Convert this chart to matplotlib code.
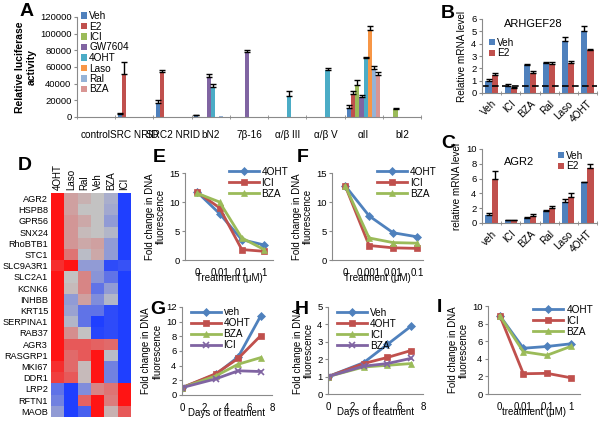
import numpy as np
import matplotlib
matplotlib.use('Agg')
from matplotlib import pyplot as plt
from matplotlib.colors import LinearSegmentedColormap

plt.rcParams['font.family'] = ['Liberation Sans', 'DejaVu Sans']
plt.rcParams['font.size'] = 7

W, H = 600, 425
AX_GREY = '#8a8a8a'

# Excel 2007 palette
C_BLUE = '#4F81BD'
C_RED = '#C0504D'
C_GREEN = '#9BBB59'
C_PURPLE = '#8064A2'
C_TEAL = '#4BACC6'
C_ORANGE = '#F79646'
C_LBLUE = '#95B3D7'
C_PINK = '#D99694'

# ---- panel A data ----
a_groups = ['control', 'SRC NRID', 'SRC2 NRID', 'bN2', '7\u03b2-16',
            '\u03b1/\u03b2 III', '\u03b1/\u03b2 V', '\u03b1II', 'bI2']
a_series = ['Veh', 'E2', 'ICI', 'GW7604', '4OHT', 'Laso', 'Ral', 'BZA']
a_veh = [500, 4000, 17000, 2000, 500, 500, 500, 11000, 500]
a_e2 = [500, 52000, 54000, 500, 500, 500, 500, 27500, 500]
a_ici = [500, 500, 500, 500, 500, 500, 500, 39000, 9500]
a_gw = [500, 500, 500, 48000, 78000, 500, 500, 24000, 500]
a_oht = [500, 500, 500, 36000, 500, 25000, 56000, 70500, 500]
a_laso = [500, 500, 500, 500, 500, 500, 500, 104000, 500]
a_ral = [500, 500, 500, 1000, 500, 500, 500, 58000, 500]
a_bza = [500, 500, 500, 500, 500, 500, 500, 51000, 500]
a_veh_err = [0, 1000, 3000, 1000, 0, 0, 0, 3000, 0]
a_e2_err = [0, 14000, 3000, 0, 0, 0, 0, 4000, 0]
a_ici_err = [0, 0, 0, 0, 0, 0, 0, 5500, 1500]
a_gw_err = [0, 0, 0, 4000, 3000, 0, 0, 3000, 0]
a_oht_err = [0, 0, 0, 4000, 0, 6000, 3000, 2000, 0]
a_laso_err = [0, 0, 0, 0, 0, 0, 0, 5000, 0]
a_ral_err = [0, 0, 0, 0, 0, 0, 0, 3500, 0]
a_bza_err = [0, 0, 0, 0, 0, 0, 0, 3000, 0]

# ---- panels B, C ----
bc_cats_b = ['Veh', 'ICI', 'BZA', 'Ral', 'Laso', '4OHT']
bc_cats_c = ['veh', 'ICI', 'BZA', 'Ral', 'Laso', '4OHT']
b_veh = [1.0, 0.6, 2.3, 2.45, 4.2, 5.0]
b_e2 = [1.5, 0.4, 1.6, 2.35, 2.45, 3.5]
b_veh_err = [0.1, 0.15, 0.05, 0.1, 0.35, 0.4]
b_e2_err = [0.15, 0.1, 0.2, 0.15, 0.15, 0.1]
b_line = 0.55
c_veh = [1.1, 0.35, 0.7, 1.6, 2.9, 5.5]
c_e2 = [5.9, 0.4, 1.0, 2.0, 3.5, 7.4]
c_veh_err = [0.2, 0.05, 0.1, 0.15, 0.3, 0.1]
c_e2_err = [1.1, 0.05, 0.25, 0.35, 0.5, 0.6]

# ---- panel D heatmap ----
d_cols = ['4OHT', 'Laso', 'Ral', 'Veh', 'BZA', 'ICI']
d_rows = ['AGR2', 'HSPB8', 'GPR56', 'SNX24', 'RhoBTB1', 'STC1', 'SLC9A3R1',
          'SLC2A1', 'KCNK6', 'INHBB', 'KRT15', 'SERPINA1', 'RAB37', 'AGR3',
          'RASGRP1', 'MKI67', 'DDR1', 'LRP2', 'RFTN1', 'MAOB']
d_vals = [
    [1.0, 0.2, 0.1, 0.0, -0.15, -1.0],
    [1.0, 0.2, 0.0, 0.0, -0.2, -1.0],
    [1.0, 0.25, 0.15, 0.0, -0.3, -1.0],
    [1.0, 0.25, 0.05, 0.0, -0.1, -1.0],
    [1.0, 0.25, 0.15, 0.2, -0.3, -1.0],
    [1.0, 0.45, -0.05, 0.15, -0.3, -1.0],
    [0.85, 1.0, -0.3, -0.3, -0.9, -0.85],
    [1.0, 0.0, 0.35, -0.35, -0.6, -1.0],
    [1.0, 0.05, 0.35, -0.6, -0.3, -1.0],
    [1.0, -0.3, 0.2, -0.4, -0.1, -1.0],
    [1.0, -0.25, -0.6, -0.6, -0.9, -1.0],
    [1.0, -0.1, -0.6, -1.0, -0.9, -1.0],
    [1.0, 0.3, 0.0, -0.95, -0.9, -1.0],
    [1.0, 0.6, 0.6, 0.55, 0.5, -1.0],
    [1.0, 0.5, 0.6, 1.0, -0.05, -1.0],
    [0.85, 0.5, 0.05, 1.0, -0.5, -1.0],
    [0.75, 0.6, 0.05, 1.0, -0.5, -1.0],
    [-0.6, -1.0, -0.4, 0.35, 0.45, 1.0],
    [-0.5, -1.0, 0.55, 1.0, 0.4, 1.0],
    [-0.3, -1.0, -0.75, 1.0, 0.1, 0.6],
]

# ---- panels E, F, I (dose) ----
e_doses = ['0', '0.01', '0.1', '1']
e_oht = [11.7, 8.0, 3.5, 2.6]
e_ici = [11.7, 9.0, 1.8, 1.5]
e_bza = [11.5, 10.0, 3.8, 1.8]
f_doses = ['0', '0.001', '0.01', '0.1']
f_oht = [12.8, 7.6, 4.7, 4.0]
f_ici = [12.8, 2.5, 2.1, 2.0]
f_bza = [12.8, 3.8, 3.0, 2.9]
i_doses = ['0', '0.01', '0.1', '1']
i_oht = [8.9, 5.2, 5.4, 5.7]
i_ici = [8.9, 2.3, 2.35, 1.85]
i_bza = [8.9, 4.8, 4.4, 5.4]

# ---- panels G, H (time) ----
days = [0, 3, 5, 7]
g_veh = [1.0, 2.8, 5.2, 10.8]
g_oht = [1.0, 2.9, 5.0, 8.1]
g_bza = [1.0, 2.6, 4.2, 5.1]
g_ici = [1.0, 2.2, 3.3, 3.2]
h_veh = [1.0, 1.8, 2.85, 3.9]
h_oht = [1.0, 1.75, 2.1, 2.5]
h_ici = [1.0, 1.55, 1.65, 1.75]
h_bza = [1.0, 1.6, 1.75, 2.05]


def px_axes(fig, left, top, right, bottom):
    return fig.add_axes([left / W, 1 - bottom / H, (right - left) / W, (bottom - top) / H])


def excel_style(ax):
    for s in ['top', 'right']:
        ax.spines[s].set_visible(False)
    for s in ['left', 'bottom']:
        ax.spines[s].set_color(AX_GREY)
    ax.tick_params(colors=AX_GREY, labelcolor='black', length=2.5, width=0.8,
                   labelsize=6.8, pad=1.5)


def panel_letter(fig, x, y, s):
    fig.text(x / W, 1 - y / H, s, fontsize=14, fontweight='bold', va='center', ha='left')


fig = plt.figure(figsize=(6, 4.25), dpi=100)

# ---------- A ----------
ax = px_axes(fig, 77, 17, 421, 117)
excel_style(ax)
vals = [a_veh, a_e2, a_ici, a_gw, a_oht, a_laso, a_ral, a_bza]
errs = [a_veh_err, a_e2_err, a_ici_err, a_gw_err, a_oht_err, a_laso_err, a_ral_err, a_bza_err]
cols = [C_BLUE, C_RED, C_GREEN, C_PURPLE, C_TEAL, C_ORANGE, C_LBLUE, C_PINK]
x = np.arange(len(a_groups))
bw = 0.11
for k in range(8):
    pos = x - 0.385 + k * bw
    e = np.array(errs[k])
    ax.bar(pos, vals[k], bw, color=cols[k], label=a_series[k])
    m = e > 0
    ax.errorbar(pos[m], np.array(vals[k])[m], yerr=[np.zeros(m.sum()), e[m]],
                fmt='none', ecolor='black', elinewidth=1, capsize=2, capthick=1)
ax.set_xlim(-0.5, len(a_groups) - 0.5)
ax.set_ylim(0, 120000)
ax.set_yticks(np.arange(0, 120001, 20000))
ax.set_xticks(x)
ax.set_xticklabels(a_groups, fontsize=7.2)
ax.set_xticks(np.arange(-0.5, len(a_groups), 1), minor=True)
ax.tick_params(axis='x', which='major', length=0, pad=9)
ax.tick_params(axis='x', which='minor', length=3, color=AX_GREY, direction='inout')
ax.set_ylabel('Relative luciferase\nactivity', fontsize=7.5, fontweight='bold', labelpad=2)
ax.legend(loc='upper left', bbox_to_anchor=(0.0, 1.1), frameon=False, fontsize=7.2,
          handlelength=0.6, handleheight=0.6, handletextpad=0.2, labelspacing=0.05,
          borderaxespad=0)
panel_letter(fig, 20, 12, 'A')


def pair_bars(ax, cats, v1, v2, e1, e2, ymax, ystep, title, title_xy, ylabel, lg_loc):
    excel_style(ax)
    xx = np.arange(len(cats))
    w = 0.32
    ax.bar(xx - w / 2, v1, w, color=C_BLUE, label='Veh')
    ax.bar(xx + w / 2, v2, w, color=C_RED, label='E2')
    for pos, v, e in [(xx - w / 2, v1, e1), (xx + w / 2, v2, e2)]:
        ax.errorbar(pos, v, yerr=[np.zeros(len(v)), e], fmt='none', ecolor='black',
                    elinewidth=1, capsize=2, capthick=1)
    ax.set_xlim(-0.5, len(cats) - 0.5)
    ax.set_ylim(0, ymax)
    ax.set_yticks(np.arange(0, ymax + 0.01, ystep))
    ax.set_xticks(xx)
    ax.set_xticklabels(cats, rotation=45, ha='right', rotation_mode='anchor', fontsize=7.2)
    ax.set_xticks(np.arange(-0.5, len(cats), 1), minor=True)
    ax.tick_params(axis='x', which='major', length=0, pad=4)
    ax.tick_params(axis='x', which='minor', length=3, color=AX_GREY, direction='inout')
    ax.set_ylabel(ylabel, fontsize=7.2, labelpad=3)
    ax.text(title_xy[0], title_xy[1], title, transform=ax.transAxes, ha='center',
            va='center', fontsize=8)
    ax.legend(loc='upper left', bbox_to_anchor=lg_loc, frameon=False, fontsize=7.2,
              handlelength=0.6, handleheight=0.6, handletextpad=0.2, labelspacing=0.05,
              borderaxespad=0)


# ---------- B ----------
ax = px_axes(fig, 482, 19, 597, 93)
pair_bars(ax, bc_cats_b, b_veh, b_e2, b_veh_err, b_e2_err, 6, 1, 'ARHGEF28', (0.45, 0.93),
          'Relative mRNA level', (0.03, 0.8))
ax.axhline(b_line, color='black', ls='--', lw=1.2, dashes=(4, 2))
panel_letter(fig, 441, 14, 'B')

# ---------- C ----------
ax = px_axes(fig, 482, 149, 597, 223)
pair_bars(ax, bc_cats_c, c_veh, c_e2, c_veh_err, c_e2_err, 10, 2, 'AGR2', (0.32, 0.82),
          'relative mRNA level', (0.63, 1.03))
panel_letter(fig, 441, 143, 'C')

# ---------- D ----------
ax = px_axes(fig, 51, 193, 131, 417)
cmap = LinearSegmentedColormap.from_list('rgb', ['#1f3fff', '#c3c3c3', '#ff1414'])
ax.imshow(np.array(d_vals), cmap=cmap, vmin=-1, vmax=1, aspect='auto', interpolation='nearest')
ax.set_xticks(np.arange(len(d_cols)))
ax.set_xticklabels(d_cols, rotation=90, fontsize=7)
ax.xaxis.tick_top()
ax.set_yticks(np.arange(len(d_rows)))
ax.set_yticklabels(d_rows, fontsize=6.6)
ax.tick_params(length=0, pad=2)
for s in ax.spines.values():
    s.set_visible(False)
panel_letter(fig, 18, 165, 'D')


def line_panel(ax, xs, series, ymax, ystep, xlim, xticks, xticklabels, xlabel, lg_kw):
    excel_style(ax)
    for lab, ys, c, mk in series:
        ms = 5 if mk == 'x' else 4
        ax.plot(xs, ys, color=c, lw=2, marker=mk, ms=ms, mew=1.2 if mk == 'x' else 0.5,
                mec=c, label=lab)
    ax.set_ylim(0, ymax)
    ax.set_yticks(np.arange(0, ymax + 0.01, ystep))
    ax.set_xlim(*xlim)
    ax.set_xticks(xticks)
    ax.set_xticklabels(xticklabels, fontsize=7)
    ax.tick_params(axis='x', length=0, pad=6)
    ax.set_xlabel(xlabel, fontsize=7, labelpad=-4)
    ax.set_ylabel('Fold change in DNA\nfluorescence', fontsize=7, labelpad=2)
    ax.legend(frameon=False, fontsize=7.2, handlelength=3.0, handletextpad=0.3,
              labelspacing=0.1, borderaxespad=0, **lg_kw)


ix = np.arange(4)
# ---------- E ----------
ax = px_axes(fig, 185, 173, 273, 260)
line_panel(ax, ix, [('4OHT', e_oht, C_BLUE, 'D'), ('ICI', e_ici, C_RED, 's'),
                    ('BZA', e_bza, C_GREEN, '^')],
           15, 5, (-0.55, 3.4), ix, e_doses, 'Treatment (\u03bcM)',
           dict(loc='upper left', bbox_to_anchor=(0.45, 1.12)))
panel_letter(fig, 153, 158, 'E')

# ---------- F ----------
ax = px_axes(fig, 332, 173, 423, 260)
line_panel(ax, ix, [('4OHT', f_oht, C_BLUE, 'D'), ('ICI', f_ici, C_RED, 's'),
                    ('BZA', f_bza, C_GREEN, '^')],
           15, 5, (-0.55, 3.25), ix, f_doses, 'Treatment (\u03bcM)',
           dict(loc='upper left', bbox_to_anchor=(0.45, 1.12)))
panel_letter(fig, 297, 158, 'F')

# ---------- G ----------
ax = px_axes(fig, 182, 307, 272, 395)
line_panel(ax, days, [('veh', g_veh, C_BLUE, 'D'), ('4OHT', g_oht, C_RED, 's'),
                      ('BZA', g_bza, C_GREEN, '^'), ('ICI', g_ici, C_PURPLE, 'x')],
           12, 2, (0, 8), [0, 2, 4, 6, 8], ['0', '2', '4', '6', '8'], 'Days of treatment',
           dict(loc='upper left', bbox_to_anchor=(0.05, 1.04)))
panel_letter(fig, 150, 310, 'G')

# ---------- H ----------
ax = px_axes(fig, 328, 307, 423, 394)
line_panel(ax, days, [('Veh', h_veh, C_BLUE, 'D'), ('4OHT', h_oht, C_RED, 's'),
                      ('ICI', h_ici, C_GREEN, '^'), ('BZA', h_bza, C_PURPLE, 'x')],
           5, 1, (0, 8), [0, 2, 4, 6, 8], ['0', '2', '4', '6', '8'], 'Days of treatment',
           dict(loc='upper left', bbox_to_anchor=(0.05, 1.04)))
panel_letter(fig, 295, 310, 'H')

# ---------- I ----------
ax = px_axes(fig, 488, 306, 580, 394)
line_panel(ax, ix, [('4OHT', i_oht, C_BLUE, 'D'), ('ICI', i_ici, C_RED, 's'),
                    ('BZA', i_bza, C_GREEN, '^')],
           10, 2, (-0.5, 3.4), ix, i_doses, 'treatment (\u03bcM)',
           dict(loc='upper left', bbox_to_anchor=(0.45, 1.06)))
panel_letter(fig, 437, 307, 'I')

fig.savefig('out.png', dpi=100)
